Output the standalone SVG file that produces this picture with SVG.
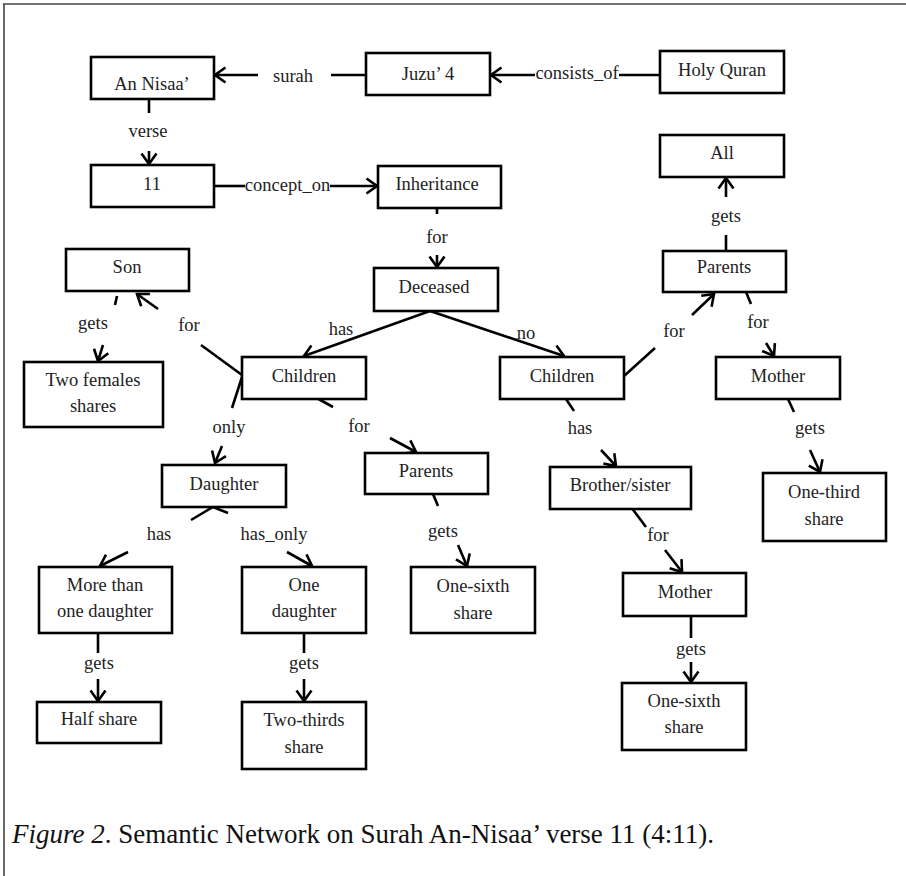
<svg xmlns="http://www.w3.org/2000/svg" width="906" height="876" viewBox="0 0 906 876">
<style>
.box{fill:#fff;stroke:#000;stroke-width:2.6}
.t{font-family:'Liberation Serif','Tinos','Nimbus Roman','DejaVu Serif',serif;font-size:18.5px;fill:#222;text-anchor:middle}
.e{stroke:#000;stroke-width:2.6;fill:none}
.a{marker-end:url(#arr)}
.cap{font-family:'Liberation Serif','Tinos','Nimbus Roman','DejaVu Serif',serif;font-size:27px;fill:#111}
</style>
<defs>
<marker id="arr" markerWidth="14" markerHeight="18" refX="12" refY="9" orient="auto" markerUnits="userSpaceOnUse" viewBox="0 0 14 18">
<path d="M1.5,1.5 L12,9 L1.5,16.5" fill="none" stroke="#000" stroke-width="2.6"/>
</marker>
</defs>
<rect width="906" height="876" fill="#fff"/>
<g id="frame">
<line x1="3" y1="4" x2="906" y2="4" stroke="#444" stroke-width="1.6"/>
<line x1="4" y1="4" x2="4" y2="876" stroke="#444" stroke-width="1.6"/>
</g>
<g id="connectors">
<line class="e" x1="366" y1="75" x2="331" y2="75"/>
<text class="t" x="293" y="82">surah</text>
<line class="e a" x1="258" y1="75" x2="215" y2="75"/>
<line class="e" x1="660" y1="75" x2="619" y2="75"/>
<text class="t" x="577" y="79">consists_of</text>
<line class="e a" x1="535" y1="75" x2="491" y2="75"/>
<line class="e" x1="149" y1="99" x2="149" y2="113"/>
<text class="t" x="148" y="137">verse</text>
<line class="e a" x1="149" y1="151" x2="149" y2="164"/>
<line class="e" x1="214" y1="186" x2="245" y2="186"/>
<text class="t" x="287.5" y="191">concept_on</text>
<line class="e a" x1="330" y1="186" x2="377" y2="186"/>
<line class="e" x1="437" y1="208" x2="437" y2="214"/>
<text class="t" x="437" y="243">for</text>
<line class="e a" x1="437" y1="255" x2="437" y2="267"/>
<line class="e a" x1="430" y1="311" x2="304" y2="356"/>
<text class="t" x="341" y="335">has</text>
<line class="e a" x1="430" y1="311" x2="564" y2="356"/>
<text class="t" x="526" y="339">no</text>
<line class="e" x1="242" y1="375" x2="201" y2="345"/>
<text class="t" x="189" y="331">for</text>
<line class="e a" x1="158" y1="309" x2="137" y2="294"/>
<line class="e" x1="117" y1="296" x2="115" y2="305"/>
<text class="t" x="93" y="329">gets</text>
<line class="e a" x1="103" y1="345" x2="98" y2="361"/>
<line class="e" x1="242" y1="377" x2="232" y2="408"/>
<text class="t" x="229" y="433">only</text>
<line class="e a" x1="222" y1="446" x2="215" y2="463"/>
<line class="e" x1="315" y1="397" x2="333" y2="407"/>
<text class="t" x="359" y="432">for</text>
<line class="e a" x1="390" y1="438" x2="416" y2="452"/>
<line class="e" x1="433" y1="494" x2="438" y2="506"/>
<text class="t" x="443" y="537">gets</text>
<line class="e a" x1="458" y1="545" x2="467" y2="566"/>
<line class="e" x1="213" y1="507" x2="191" y2="520"/>
<text class="t" x="159" y="540">has</text>
<line class="e a" x1="128" y1="552" x2="100" y2="566"/>
<line class="e" x1="213" y1="507" x2="228" y2="513"/>
<text class="t" x="274" y="540">has_only</text>
<line class="e a" x1="287" y1="552" x2="312" y2="566"/>
<line class="e" x1="98" y1="633" x2="98" y2="653"/>
<text class="t" x="99" y="669">gets</text>
<line class="e a" x1="98" y1="679" x2="98" y2="701"/>
<line class="e" x1="304" y1="633" x2="304" y2="653"/>
<text class="t" x="304" y="669">gets</text>
<line class="e a" x1="304" y1="679" x2="304" y2="701"/>
<line class="e" x1="624" y1="376" x2="655" y2="348"/>
<text class="t" x="674" y="337">for</text>
<line class="e a" x1="692" y1="315" x2="714" y2="294"/>
<line class="e" x1="726" y1="251" x2="726" y2="235"/>
<text class="t" x="726" y="222">gets</text>
<line class="e a" x1="726" y1="197" x2="726" y2="178"/>
<line class="e" x1="746" y1="292" x2="751" y2="304"/>
<text class="t" x="758" y="328">for</text>
<line class="e a" x1="766" y1="343" x2="774" y2="356"/>
<line class="e" x1="788" y1="399" x2="794" y2="412"/>
<text class="t" x="810" y="434">gets</text>
<line class="e a" x1="810" y1="450" x2="820" y2="472"/>
<line class="e" x1="566" y1="399" x2="574" y2="411"/>
<text class="t" x="580" y="434">has</text>
<line class="e a" x1="601" y1="450" x2="616" y2="466"/>
<line class="e" x1="631" y1="507" x2="646" y2="527"/>
<text class="t" x="658" y="541">for</text>
<line class="e a" x1="665" y1="550" x2="682" y2="572"/>
<line class="e" x1="691" y1="616" x2="691" y2="638"/>
<text class="t" x="691" y="655">gets</text>
<line class="e a" x1="691" y1="662" x2="691" y2="682"/>
</g>
<g id="n-annisaa"><rect class="box" x="91" y="57" width="123" height="42"/><text class="t" x="152" y="90">An Nisaa’</text></g>
<g id="n-juzu"><rect class="box" x="366" y="53" width="124" height="42"/><text class="t" x="428" y="80">Juzu’ 4</text></g>
<g id="n-quran"><rect class="box" x="660" y="51" width="124" height="42"/><text class="t" x="722" y="76">Holy Quran</text></g>
<g id="n-11"><rect class="box" x="91" y="165" width="123" height="42"/><text class="t" x="152" y="190">11</text></g>
<g id="n-inheritance"><rect class="box" x="378" y="166" width="123" height="42"/><text class="t" x="437" y="190">Inheritance</text></g>
<g id="n-all"><rect class="box" x="660" y="135" width="124" height="42"/><text class="t" x="722" y="159">All</text></g>
<g id="n-son"><rect class="box" x="66" y="249" width="123" height="42"/><text class="t" x="127" y="273">Son</text></g>
<g id="n-deceased"><rect class="box" x="374" y="268" width="124" height="43"/><text class="t" x="434" y="293">Deceased</text></g>
<g id="n-parents-r"><rect class="box" x="663" y="251" width="123" height="41"/><text class="t" x="724" y="273">Parents</text></g>
<g id="n-twofemales"><rect class="box" x="24" y="362" width="139" height="65"/><text class="t" x="93" y="386">Two females</text><text class="t" x="93" y="412">shares</text></g>
<g id="n-children-l"><rect class="box" x="242" y="357" width="124" height="42"/><text class="t" x="304" y="382">Children</text></g>
<g id="n-children-r"><rect class="box" x="500" y="357" width="124" height="42"/><text class="t" x="562" y="382">Children</text></g>
<g id="n-mother-r"><rect class="box" x="716" y="357" width="124" height="42"/><text class="t" x="778" y="382">Mother</text></g>
<g id="n-daughter"><rect class="box" x="162" y="465" width="124" height="42"/><text class="t" x="224" y="490">Daughter</text></g>
<g id="n-parents-c"><rect class="box" x="365" y="453" width="123" height="41"/><text class="t" x="426" y="477">Parents</text></g>
<g id="n-brother"><rect class="box" x="550" y="467" width="141" height="42"/><text class="t" x="620" y="491">Brother/sister</text></g>
<g id="n-onethird"><rect class="box" x="763" y="473" width="123" height="68"/><text class="t" x="824" y="498">One-third</text><text class="t" x="824" y="525">share</text></g>
<g id="n-onesixth-c"><rect class="box" x="411" y="567" width="124" height="66"/><text class="t" x="473" y="592">One-sixth</text><text class="t" x="473" y="619">share</text></g>
<g id="n-morethan"><rect class="box" x="39" y="567" width="133" height="66"/><text class="t" x="105" y="591">More than</text><text class="t" x="105" y="617">one daughter</text></g>
<g id="n-onedaughter"><rect class="box" x="242" y="567" width="124" height="66"/><text class="t" x="304" y="591">One</text><text class="t" x="304" y="617">daughter</text></g>
<g id="n-mother-l"><rect class="box" x="623" y="573" width="123" height="43"/><text class="t" x="685" y="598">Mother</text></g>
<g id="n-half"><rect class="box" x="37" y="702" width="124" height="41"/><text class="t" x="99" y="725">Half share</text></g>
<g id="n-twothirds"><rect class="box" x="242" y="702" width="124" height="67"/><text class="t" x="304" y="726">Two-thirds</text><text class="t" x="304" y="753">share</text></g>
<g id="n-onesixth-r"><rect class="box" x="622" y="683" width="124" height="67"/><text class="t" x="684" y="707">One-sixth</text><text class="t" x="684" y="733">share</text></g>
<text class="cap" x="12" y="843"><tspan font-style="italic">Figure 2</tspan>. Semantic Network on Surah An-Nisaa’ verse 11 (4:11).</text>
</svg>
